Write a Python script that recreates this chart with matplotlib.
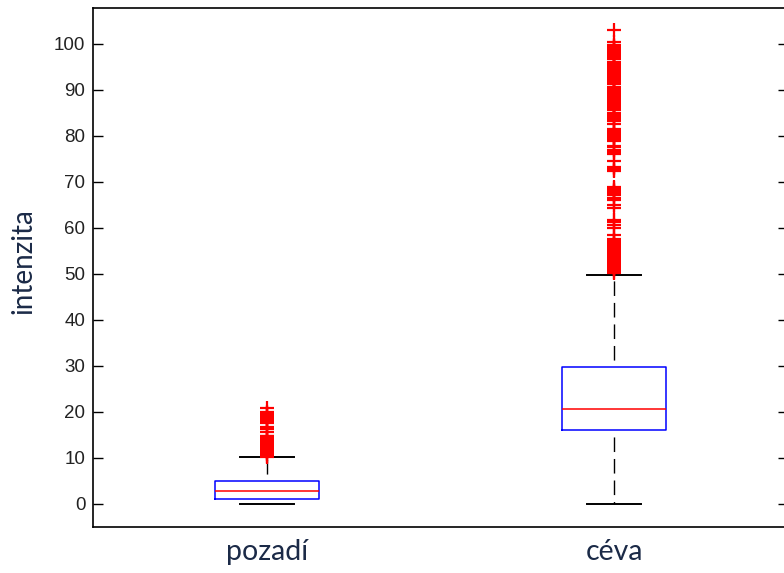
import matplotlib
matplotlib.use("Agg")
import matplotlib.pyplot as plt

categories = ["pozadí", "céva"]
q1 = [0.9, 15.9]
median = [2.7, 20.5]
q3 = [4.8, 29.6]
whisker_low = [0.0, 0.0]
whisker_high = [10.1, 49.7]

outliers_pozadi = [
    10.1, 10.4, 10.7, 11.0, 11.3, 11.6, 11.9, 12.2, 12.5, 12.8, 13.1, 13.4,
    13.7, 14.0, 14.3, 14.6, 14.8, 15.5, 16.2, 16.7, 17.5, 17.8, 18.1, 18.4,
    18.7, 19.0, 19.3, 19.6, 20.0, 20.8,
]
outliers_ceva = [
    50.1, 50.4, 50.7, 51.0, 51.3, 51.6, 51.9, 52.2, 52.5, 52.8, 53.1, 53.4,
    53.7, 54.0, 54.3, 54.6, 54.9, 55.2, 55.5, 55.8, 56.1, 56.4, 56.7, 57.0,
    57.3, 57.5, 58.4, 59.9, 60.6, 61.2, 61.7, 64.3, 64.9, 66.0, 66.5,
    67.1, 67.4, 67.7, 68.0, 68.3, 68.6, 68.9,
    72.3, 72.6, 72.9, 73.3, 74.5, 76.0, 76.4, 76.9, 77.6, 77.8,
    78.8, 79.1, 79.4, 79.7, 80.0, 80.3, 80.6, 80.9, 81.2, 81.4,
    82.5, 83.2, 83.6, 83.9, 84.2, 84.5, 84.8, 85.0,
    85.6, 85.9, 86.2, 86.5, 86.8, 87.1, 87.4, 87.7, 88.0, 88.3, 88.6, 88.9,
    89.2, 89.5, 89.8, 90.1, 90.4, 90.7, 91.2, 91.7,
    92.1, 92.4, 92.7, 93.0, 93.3, 93.6, 93.8,
    94.3, 94.6, 94.9, 95.2, 95.5, 95.8, 96.1,
    96.8, 97.1, 97.4, 97.7, 98.0, 98.3, 98.6, 98.9, 99.2, 99.5, 99.7,
    100.3, 103.0,
]
outliers = [outliers_pozadi, outliers_ceva]
y_ticks = [0, 10, 20, 30, 40, 50, 60, 70, 80, 90, 100]

fig = plt.figure(figsize=(7.84, 5.73), dpi=100)
ax = fig.add_axes([93 / 784, 1 - 527 / 573, 695 / 784, (527 - 7.5) / 573])

stats = []
for i in range(len(categories)):
    stats.append(dict(med=median[i], q1=q1[i], q3=q3[i],
                      whislo=whisker_low[i], whishi=whisker_high[i],
                      fliers=outliers[i], label=categories[i]))

ax.bxp(stats, positions=[1, 2], widths=0.3, capwidths=0.155,
       boxprops=dict(color="#0000ff", linewidth=1.1),
       medianprops=dict(color="#ff0000", linewidth=1.1),
       whiskerprops=dict(color="black", linewidth=1.0,
                         linestyle=(10.5, (10.5, 5))),
       capprops=dict(color="black", linewidth=1.4),
       flierprops=dict(marker="+", markersize=10.3, markeredgecolor="#ff0000",
                       markeredgewidth=1.6, linestyle="none"))

ax.set_xlim(0.5, 2.5)
ax.set_ylim(-5.1, 107.9)
ax.set_yticks(y_ticks)
ax.set_yticklabels([str(v) for v in y_ticks], fontfamily="Liberation Sans",
                   fontsize=13.5, color="#222222")
ax.tick_params(axis="y", direction="in", length=7, width=1, right=True,
               left=True, pad=5.5)
ax.set_xticks([1, 2])
ax.set_xticklabels(categories, fontfamily="Lato", fontsize=20.5, color="#1b2a47")
ax.tick_params(axis="x", length=0, pad=8.5)
for s in ax.spines.values():
    s.set_linewidth(1.2)

fig.text(23 / 784, 1 - 261 / 573, "intenzita", rotation=90, ha="center",
         va="center", fontfamily="Lato", fontsize=20, color="#1b2a47")

fig.savefig("out.png", dpi=100)
